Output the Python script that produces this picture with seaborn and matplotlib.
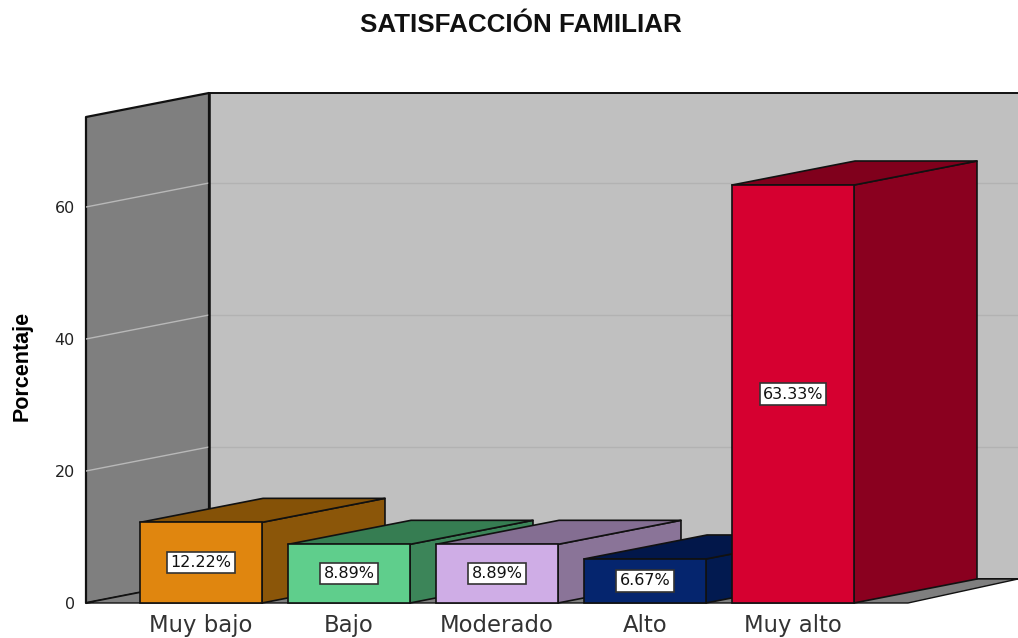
import matplotlib
matplotlib.use("Agg")
import matplotlib.pyplot as plt
from matplotlib.patches import Polygon
import pandas as pd
import seaborn as sns

categorias = ["Muy bajo", "Bajo", "Moderado", "Alto", "Muy alto"]
porcentajes = [12.22, 8.89, 8.89, 6.67, 63.33]
colores = ["#E0860F", "#5FCE8C", "#CFADE6", "#05256E", "#D60030"]
laterales = ["#8B5609", "#3C8559", "#8A7498", "#021A50", "#8A001F"]
techos = ["#855207", "#367D52", "#846E92", "#02174A", "#80001C"]
ticks_y = [0, 20, 40, 60]

W, H = 1018, 638
sns.set_theme(style="white")
plt.rcParams["font.family"] = ["Liberation Sans", "DejaVu Sans"]

df = pd.DataFrame({"cat": categorias, "pct": porcentajes})

fig = plt.figure(figsize=(W / 100, H / 100), dpi=100)
# front plane of the chart: x 86..1018 px, y 117..603 px
ax = fig.add_axes([86 / W, 1 - 603 / H, (W - 86) / W, (603 - 117) / H])
ax.patch.set_alpha(0)

sns.barplot(data=df, x="cat", y="pct", hue="cat", palette=colores, saturation=1,
            width=0.824, edgecolor="#111111", linewidth=1.2, legend=False, ax=ax)
barras = sorted(ax.patches, key=lambda p: p.get_x())

px_x = 148.0
px_y = 6.6
ax.set_xlim(-115 / px_x, (W - 201) / px_x)
ax.set_ylim(0, 486 / px_y)

# depth of the fake 3d
dx = 123 / px_x
dy = 24 / px_y
x0 = -115 / px_x
x1 = (W - 201) / px_x
tope = 486 / px_y


def poli(puntos, color, z, edge="#111111", lw=1.2):
    p = Polygon(puntos, closed=True, facecolor=color, edgecolor=edge, linewidth=lw,
                zorder=z, clip_on=False, joinstyle="round")
    ax.add_patch(p)


# walls and floor
poli([(x0 + dx, dy), (x1 + 1, dy), (x1 + 1, tope + dy), (x0 + dx, tope + dy)], "#C0C0C0", 1, lw=1.4)
poli([(x0, 0), (x0 + dx, dy), (x0 + dx, tope + dy), (x0, tope)], "#7F7F7F", 2, lw=1.6)
poli([(x0, 0), (707 / px_x, 0), (817 / px_x, dy), (x0 + dx, dy)], "#7F7F7F", 3, lw=1.0)

for t in ticks_y[1:]:
    ax.plot([x0 + dx, x1], [t + dy, t + dy], color="#B2B2B2", lw=1, zorder=1.5)
    ax.plot([x0, x0 + dx], [t, t + dy], color="#B8B8B8", lw=1, zorder=2.5)
ax.plot([x0 + dx, x0 + dx], [dy, tope + dy], color="#111111", lw=1.8, zorder=2.6, clip_on=False)

# bars with side and top faces, left to right so they overlap correctly
for i, b in enumerate(barras):
    z = 10 + i
    xa = b.get_x()
    xb = xa + b.get_width()
    h = b.get_height()
    poli([(xb, 0), (xb + dx, dy), (xb + dx, h + dy), (xb, h)], laterales[i], z)
    poli([(xa, h), (xa + dx, h + dy), (xb + dx, h + dy), (xb, h)], techos[i], z)
    b.set_zorder(z + 0.5)
    b.set_clip_on(False)
    ax.text(xa + b.get_width() / 2, h / 2, f"{porcentajes[i]:.2f}%", ha="center", va="center",
            fontsize=11.5, family="DejaVu Sans", color="#111111", zorder=z + 0.6,
            bbox=dict(boxstyle="square,pad=0.2", facecolor="white", edgecolor="#333333", linewidth=1.2))

sns.despine(ax=ax, left=True, bottom=True)
ax.set_yticks(ticks_y)
ax.set_yticklabels([str(t) for t in ticks_y], fontsize=11.5, color="#222222", family="DejaVu Sans")
ax.tick_params(axis="y", length=0, pad=8)
ax.tick_params(axis="x", length=0, pad=8)
ax.set_xticks(range(len(categorias)))
ax.set_xticklabels(categorias, fontsize=16.4, color="#333333", family="DejaVu Sans")
ax.set_xlabel("")
ax.set_ylabel("")

fig.text(22 / W, 1 - 366 / H, "Porcentaje", rotation=90, ha="center", va="center",
         fontsize=15.5, fontweight="bold", color="black")
fig.text(521 / W, 1 - 25 / H, "SATISFACCIÓN FAMILIAR", ha="center", va="center",
         fontsize=18.7, fontweight="bold", color="#111111")

fig.savefig("out.png", dpi=100)
